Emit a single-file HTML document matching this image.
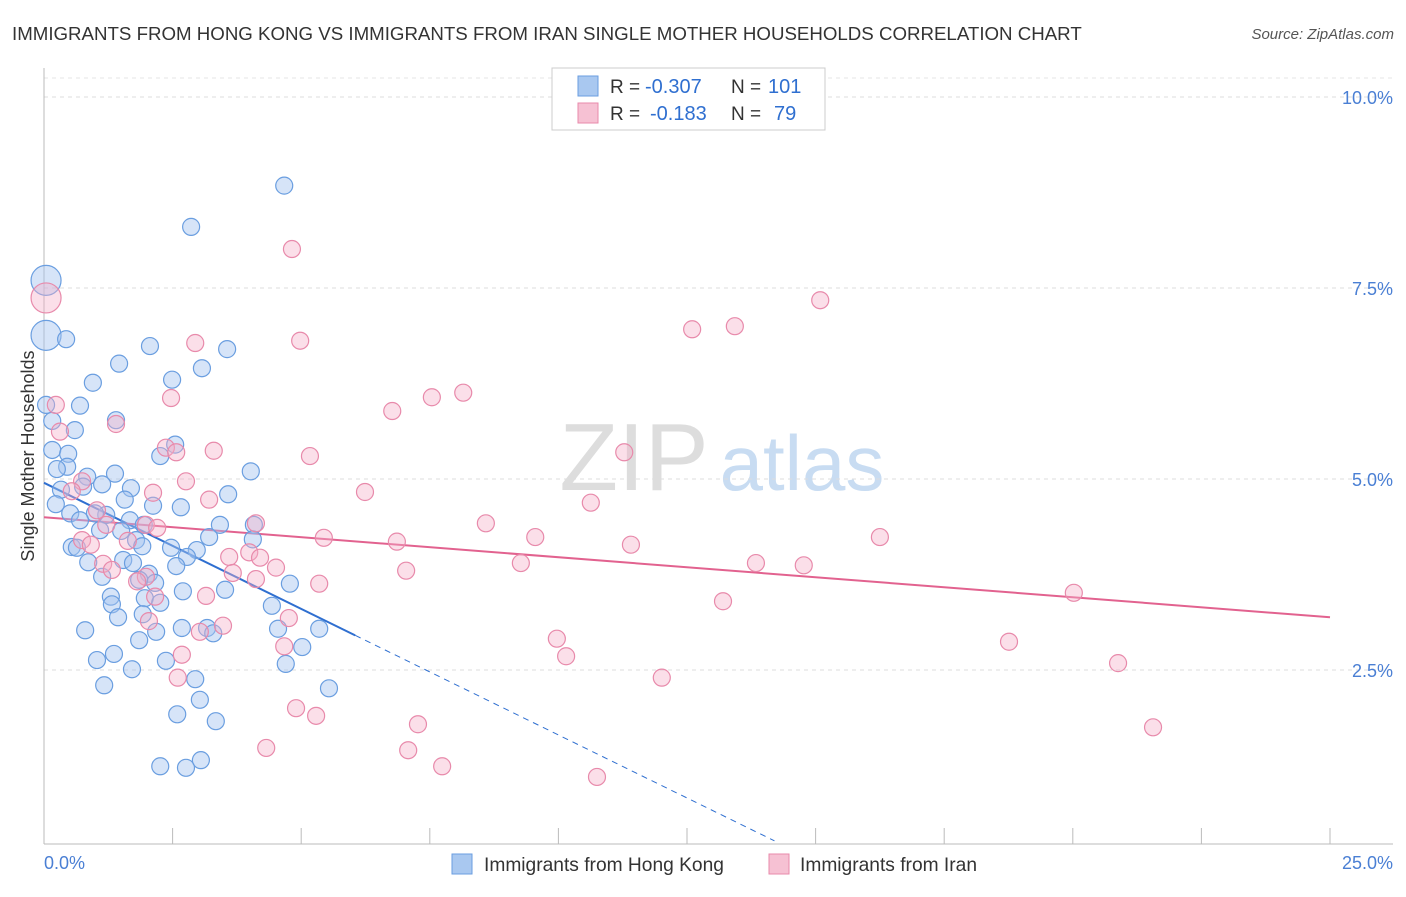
<!DOCTYPE html>
<html><head><meta charset="utf-8"><style>
body{margin:0;background:#fff;font-family:"Liberation Sans",sans-serif;}
svg text{font-family:"Liberation Sans",sans-serif;}
</style></head><body>
<svg id="chart" width="1406" height="892" viewBox="0 0 1406 892">
<text x="12" y="40" font-size="18.7" fill="#333">IMMIGRANTS FROM HONG KONG VS IMMIGRANTS FROM IRAN SINGLE MOTHER HOUSEHOLDS CORRELATION CHART</text>
<text x="1394" y="39" font-size="15" fill="#555" text-anchor="end" font-style="italic">Source: ZipAtlas.com</text>
<text x="634" y="490" font-size="96" fill="#ddd" font-family="Liberation Serif" text-anchor="middle">ZIP</text>
<text x="802" y="490" font-size="78" fill="#c8dcf2" text-anchor="middle">atlas</text>
<g id="grid"></g><g id="axes"></g><g id="lines"></g><g id="pts"></g>
<text transform="translate(34,456) rotate(-90)" font-size="18" fill="#333" text-anchor="middle">Single Mother Households</text>
<text x="44" y="869" font-size="18" fill="#4a7fd4">0.0%</text>
<text x="1393" y="869" font-size="18" fill="#4a7fd4" text-anchor="end">25.0%</text>
<g>
<rect x="552" y="68" width="273" height="62" fill="#fff" stroke="#ccc"/>
<rect x="578" y="76" width="20" height="20" fill="#a9c8f0" stroke="#6a9ee0"/>
<rect x="578" y="103" width="20" height="20" fill="#f6c1d3" stroke="#e88aab"/>
<text x="610" y="93" font-size="19" fill="#333">R =</text>
<text x="645" y="93" font-size="20" fill="#2f6fd0">-0.307</text>
<text x="731" y="93" font-size="19" fill="#333">N =</text>
<text x="768" y="93" font-size="20" fill="#2f6fd0">101</text>
<text x="610" y="120" font-size="19" fill="#333">R =</text>
<text x="650" y="120" font-size="20" fill="#2f6fd0">-0.183</text>
<text x="731" y="120" font-size="19" fill="#333">N =</text>
<text x="774" y="120" font-size="20" fill="#2f6fd0">79</text>
</g>
<g><rect x="452" y="854" width="20" height="20" fill="#a9c8f0" stroke="#6a9ee0"/><text x="484" y="871" font-size="19.2" fill="#333">Immigrants from Hong Kong</text></g>
<g><rect x="769" y="854" width="20" height="20" fill="#f6c1d3" stroke="#e88aab"/><text x="800" y="871" font-size="19.2" fill="#333">Immigrants from Iran</text></g>
</svg>
<script>
const yTicks=[2.5,5,7.5,10];
const yTickLabels=["2.5%","5.0%","7.5%","10.0%"];
const xTicks=[0,2.5,5,7.5,10,12.5,15,17.5,20,22.5,25];
const hkX=[4.67,2.86,0.04,0.04,0.43,2.06,3.56,1.46,3.07,2.49,0.95,0.70,0.04,1.40,0.60,0.16,2.55,2.26,0.16,0.47,0.45,0.25,0.84,1.38,4.02,0.33,0.76,1.13,1.69,3.58,0.23,1.57,2.12,2.66,0.51,1.21,0.99,0.70,1.67,1.94,3.42,4.08,1.09,1.50,1.79,3.21,4.06,0.54,0.64,1.91,2.47,2.97,0.86,1.54,1.73,2.78,2.57,2.04,1.13,2.16,1.85,3.52,4.78,2.70,1.30,1.96,1.32,2.26,4.43,1.44,1.92,0.80,2.18,2.68,3.17,3.29,4.55,5.35,1.85,5.02,1.36,1.03,2.37,4.70,1.71,2.94,1.17,3.03,5.54,2.59,3.34,2.26,2.76,3.05];
const hkY=[8.84,8.30,7.60,6.88,6.83,6.74,6.70,6.51,6.45,6.30,6.26,5.96,5.97,5.77,5.64,5.76,5.45,5.30,5.38,5.33,5.16,5.13,5.03,5.07,5.10,4.86,4.90,4.93,4.88,4.80,4.67,4.73,4.65,4.63,4.55,4.53,4.55,4.46,4.46,4.40,4.40,4.40,4.33,4.32,4.20,4.24,4.21,4.11,4.10,4.12,4.10,4.07,3.91,3.94,3.90,3.98,3.86,3.76,3.72,3.64,3.68,3.55,3.63,3.53,3.46,3.44,3.36,3.38,3.34,3.19,3.23,3.02,3.00,3.05,3.05,2.98,3.04,3.04,2.89,2.80,2.71,2.63,2.62,2.58,2.51,2.38,2.30,2.11,2.26,1.92,1.83,1.24,1.22,1.32];
const irX=[0.04,4.82,15.09,13.43,12.60,2.94,4.98,8.15,7.54,6.77,0.23,2.47,1.40,0.31,2.37,3.30,5.17,2.57,11.28,0.74,2.76,2.12,6.24,3.21,0.54,10.63,1.03,4.12,8.59,1.98,2.20,1.21,0.74,9.55,6.86,5.44,11.41,16.25,0.91,1.63,3.99,3.60,4.20,1.15,9.27,1.32,13.84,14.77,4.51,3.67,1.98,7.04,5.35,4.12,1.81,3.15,2.16,13.20,20.02,4.76,2.04,3.03,9.97,18.76,10.15,2.68,4.67,20.88,12.01,2.60,4.90,5.29,7.27,21.56,4.32,7.08,7.74,10.75,3.48];
const irY=[7.37,8.01,7.34,7.00,6.96,6.78,6.81,6.13,6.07,5.89,5.97,6.06,5.72,5.62,5.41,5.37,5.30,5.35,5.35,4.97,4.97,4.82,4.83,4.73,4.84,4.69,4.59,4.42,4.42,4.40,4.36,4.40,4.20,4.24,4.18,4.23,4.14,4.24,4.14,4.19,4.04,3.98,3.97,3.89,3.90,3.81,3.90,3.87,3.84,3.77,3.72,3.80,3.63,3.69,3.66,3.47,3.46,3.40,3.51,3.18,3.14,3.00,2.91,2.87,2.68,2.70,2.81,2.59,2.40,2.40,2.00,1.90,1.79,1.75,1.48,1.45,1.24,1.10,3.08];
const hkBig=[2,3];
const irBig=[0];
const hkTrend=[4.95,-0.33];
const irTrend=[4.50,-0.0524];
const hkSolidEnd=6.05, hkDashEnd=14.2;

const NS="http://www.w3.org/2000/svg";
const X=v=>44+v*51.44, Y=v=>861-v*76.4;
function mk(tag,attrs,parent){const e=document.createElementNS(NS,tag);for(const k in attrs)e.setAttribute(k,attrs[k]);document.getElementById(parent).appendChild(e);return e;}
yTicks.forEach((t,i)=>{
 const g=mk('line',{x1:44,x2:1393,y1:Y(t),y2:Y(t),stroke:'#ddd','stroke-dasharray':'4,4'},'grid');
 
 
 const tx=mk('text',{x:1393,y:Y(t)+7,'font-size':18,fill:'#4a7fd4','text-anchor':'end'},'grid');
 tx.textContent=yTickLabels[i];
 
 
});
const topGrid=mk('line',{x1:44,x2:1393,y1:78,y2:78,stroke:'#e4e4e4','stroke-dasharray':'4,4'},'grid');


const xa=mk('line',{x1:44,x2:1393,y1:844,y2:844,stroke:'#bbb'},'axes');


const ya=mk('line',{x1:44,x2:44,y1:68,y2:844,stroke:'#bbb'},'axes');


xTicks.forEach(t=>{
 const l=mk('line',{x1:X(t),x2:X(t),y1:828,y2:844,stroke:'#bbb'},'axes');
 
 
});
function pts(xs,ys,big,fill,stroke,name){
 xs.forEach((x,i)=>{
  const r=big.includes(i)?15:8.5;
  const c=mk('circle',{cx:X(x),cy:Y(ys[i]),r:r,fill:fill,stroke:stroke,'stroke-width':1.2},'pts');
  
  
 });
}
pts(hkX,hkY,hkBig,'rgba(164,196,240,0.45)','#6a9ee0','hong-kong-point');
pts(irX,irY,irBig,'rgba(244,174,200,0.4)','#e88aab','iran-point');
const f=(t,x)=>t[0]+t[1]*x;
const l1=mk('line',{x1:X(0),y1:Y(f(hkTrend,0)),x2:X(hkSolidEnd),y2:Y(f(hkTrend,hkSolidEnd)),stroke:'#2f6fd0','stroke-width':2},'lines');


const l2=mk('line',{x1:X(hkSolidEnd),y1:Y(f(hkTrend,hkSolidEnd)),x2:X(hkDashEnd),y2:Y(f(hkTrend,hkDashEnd)),stroke:'#2f6fd0','stroke-width':1,'stroke-dasharray':'6,5'},'lines');


const l3=mk('line',{x1:X(0),y1:Y(f(irTrend,0)),x2:X(25),y2:Y(f(irTrend,25)),stroke:'#e2628f','stroke-width':2},'lines');


</script>
</body></html>
